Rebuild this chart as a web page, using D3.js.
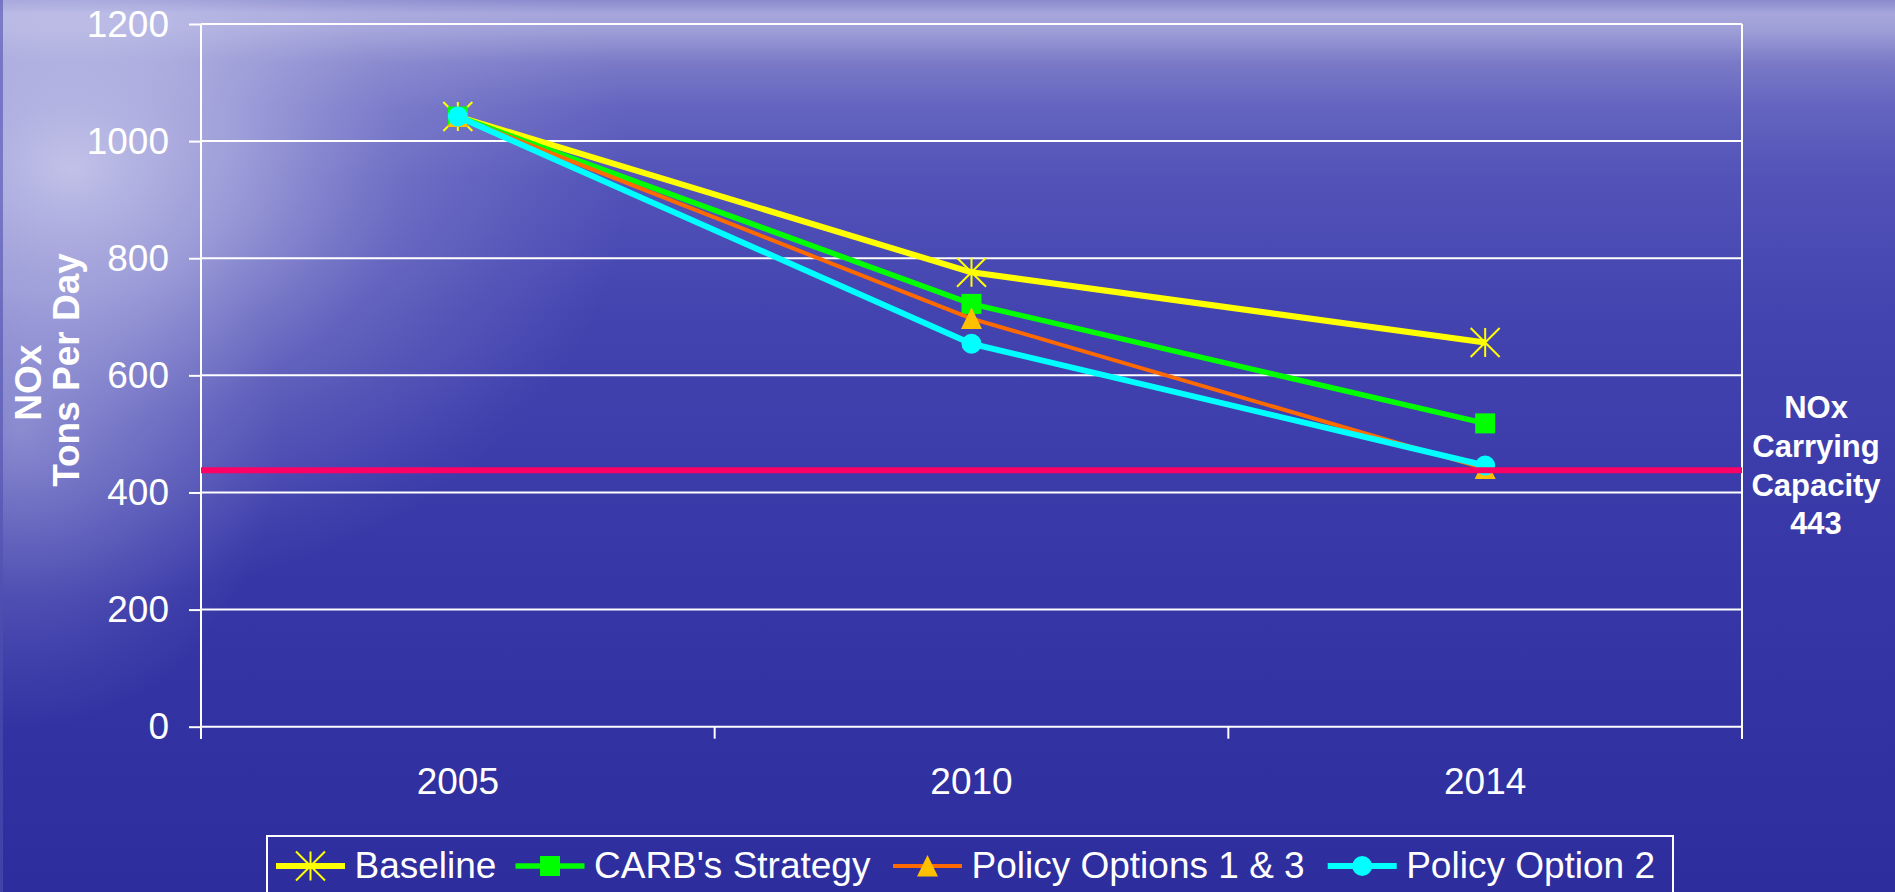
<!DOCTYPE html>
<html>
<head>
<meta charset="utf-8">
<script src="https://cdn.jsdelivr.net/npm/d3@7"></script>
<style>
  html, body { margin: 0; padding: 0; overflow: hidden; background: #2e2e9e; }
  svg { display: block; font-family: "Liberation Sans", Arial, sans-serif; }
</style>
</head>
<body>
<svg id="chart" width="1895" height="892"></svg>
<script>
// ---- data ----
const years = ["2005", "2010", "2014"];
const baseline = [1042, 776, 656];
const carbStrategy = [1042, 722, 518];
const policyOptions13 = [1042, 697, 441];
const policyOption2 = [1042, 654, 446];
const yTicks = [0, 200, 400, 600, 800, 1000, 1200];
const capacityLine = 438;          // where the red line is drawn
const capacityLabel = ["NOx", "Carrying", "Capacity", "443"];
const yTitle = ["NOx", "Tons Per Day"];
const seriesNames = ["Baseline", "CARB's Strategy", "Policy Options 1 & 3", "Policy Option 2"];

const series = [
  {name: seriesNames[0], values: baseline, line: "#FFFF00", marker: "star", mcolor: "#FFFF00", w: 6},
  {name: seriesNames[1], values: carbStrategy, line: "#00FF00", marker: "square", mcolor: "#00FF00", w: 5.5},
  {name: seriesNames[2], values: policyOptions13, line: "#FF6A00", marker: "triangle", mcolor: "#FFC000", w: 4},
  {name: seriesNames[3], values: policyOption2, line: "#00FFFF", marker: "circle", mcolor: "#00FFFF", w: 6}
];

const W = 1895, H = 892;
const plot = {left: 201, right: 1742, top: 24, bottom: 726.7};
const svg = d3.select("#chart");

// ---- background ----
const defs = svg.append("defs");
const bg = defs.append("linearGradient").attr("id", "bgv").attr("x1", 0).attr("y1", 0).attr("x2", 0).attr("y2", 1);
[[0, "#8a8ace"], [0.015, "#a6a6dc"], [0.032, "#a0a0d8"], [0.07, "#7a7ac8"], [0.12, "#6464c0"],
 [0.2, "#5252b8"], [0.35, "#4444b0"], [0.6, "#3838a8"], [1, "#2d2d9e"]].forEach(s =>
  bg.append("stop").attr("offset", s[0]).attr("stop-color", s[1]));
const haze = defs.append("radialGradient").attr("id", "haze")
  .attr("gradientUnits", "userSpaceOnUse").attr("cx", 0).attr("cy", 0).attr("r", 1)
  .attr("gradientTransform", "translate(70,170) scale(560,430)");
[[0, "#e6e6f8", 0.75], [0.3, "#d6d6f2", 0.55], [0.6, "#c0c0ea", 0.25], [1, "#b0b0e6", 0]].forEach(s =>
  haze.append("stop").attr("offset", s[0]).attr("stop-color", s[1]).attr("stop-opacity", s[2]));
const haze2 = defs.append("radialGradient").attr("id", "haze2")
  .attr("gradientUnits", "userSpaceOnUse").attr("cx", 0).attr("cy", 0).attr("r", 1)
  .attr("gradientTransform", "translate(20,430) scale(260,300)");
[[0, "#d0d0f0", 0.4], [1, "#b0b0e6", 0]].forEach(s =>
  haze2.append("stop").attr("offset", s[0]).attr("stop-color", s[1]).attr("stop-opacity", s[2]));

svg.append("rect").attr("width", W).attr("height", H).attr("fill", "url(#bgv)");
svg.append("rect").attr("width", W).attr("height", H).attr("fill", "url(#haze)");
svg.append("rect").attr("width", W).attr("height", H).attr("fill", "url(#haze2)");
svg.append("rect").attr("x", 0).attr("y", 0).attr("width", 3).attr("height", H).attr("fill", "#5050b0").attr("opacity", 0.6);

// ---- scales ----
const x = d3.scaleBand().domain(years).range([plot.left, plot.right]);
const y = d3.scaleLinear().domain([0, 1200]).range([plot.bottom, plot.top]);
const cx = d => x(d) + x.bandwidth() / 2;

// gridlines
svg.append("g").selectAll("line").data(yTicks).join("line")
  .attr("x1", plot.left).attr("x2", plot.right)
  .attr("y1", d => y(d)).attr("y2", d => y(d))
  .attr("stroke", "#ffffff").attr("stroke-width", 2);

// right border
svg.append("line").attr("x1", plot.right).attr("x2", plot.right)
  .attr("y1", plot.top).attr("y2", plot.bottom + 12)
  .attr("stroke", "#ffffff").attr("stroke-width", 2);

// y axis
const yAxis = svg.append("g").attr("transform", `translate(${plot.left},0)`)
  .call(d3.axisLeft(y).tickValues(yTicks).tickSize(12).tickPadding(20).tickFormat(d3.format("d")));
yAxis.select(".domain").attr("stroke", "#fff").attr("stroke-width", 2).attr("d", `M0,${plot.top}V${plot.bottom + 12}`);
yAxis.selectAll(".tick line").attr("stroke", "#fff").attr("stroke-width", 2);
yAxis.selectAll(".tick text").attr("fill", "#fff").attr("font-size", 37)
  .attr("font-family", "Liberation Sans, Arial, sans-serif").attr("dy", "0.33em");

// x axis
const xAxis = svg.append("g").attr("transform", `translate(0,${plot.bottom})`)
  .call(d3.axisBottom(x).tickSize(0).tickPadding(0));
xAxis.select(".domain").remove();
xAxis.selectAll(".tick text").attr("fill", "#fff").attr("font-size", 37)
  .attr("font-family", "Liberation Sans, Arial, sans-serif").attr("dy", null).attr("y", 67);
const boundaries = years.map(d => x(d)).concat([plot.right]);
svg.append("g").selectAll("line").data(boundaries).join("line")
  .attr("x1", d => d).attr("x2", d => d)
  .attr("y1", plot.bottom).attr("y2", plot.bottom + 12)
  .attr("stroke", "#fff").attr("stroke-width", 2);

// y title
svg.append("text").attr("transform", `translate(40.5,382.7) rotate(-90)`)
  .attr("text-anchor", "middle").attr("fill", "#fff").attr("font-weight", "bold").attr("font-size", 37)
  .text(yTitle[0]);
svg.append("text").attr("transform", `translate(79,370) rotate(-90)`)
  .attr("text-anchor", "middle").attr("fill", "#fff").attr("font-weight", "bold").attr("font-size", 37)
  .text(yTitle[1]);

// ---- markers ----
function drawMarker(g, type, color, px, py) {
  if (type === "star") {
    const r = 14.5;
    g.append("path").attr("d", `M${px},${py - r}V${py + r}M${px - r},${py - r}L${px + r},${py + r}M${px + r},${py - r}L${px - r},${py + r}`)
      .attr("stroke", color).attr("stroke-width", 2).attr("fill", "none");
  } else if (type === "square") {
    g.append("rect").attr("x", px - 10).attr("y", py - 10).attr("width", 20).attr("height", 20).attr("fill", color);
  } else if (type === "triangle") {
    g.append("path").attr("d", `M${px},${py - 11}L${px + 10.5},${py + 10.5}L${px - 10.5},${py + 10.5}Z`).attr("fill", color);
  } else if (type === "circle") {
    g.append("circle").attr("cx", px).attr("cy", py).attr("r", 10).attr("fill", color);
  }
}

// ---- series ----
const line = d3.line().x(d => cx(d.year)).y(d => y(d.value));
series.forEach(s => {
  const pts = years.map((yr, i) => ({year: yr, value: s.values[i]}));
  const g = svg.append("g");
  g.append("path").datum(pts).attr("d", line).attr("fill", "none")
    .attr("stroke", s.line).attr("stroke-width", s.w).attr("stroke-linejoin", "round");
  pts.forEach(p => drawMarker(g, s.marker, s.mcolor, cx(p.year), y(p.value)));
});

// capacity line
svg.append("line").attr("x1", plot.left).attr("x2", plot.right)
  .attr("y1", y(capacityLine)).attr("y2", y(capacityLine))
  .attr("stroke", "#FF0066").attr("stroke-width", 6);

// capacity label
const lbl = svg.append("text").attr("text-anchor", "middle").attr("fill", "#fff")
  .attr("font-weight", "bold").attr("font-size", 31);
const lblBaselines = [418, 457, 496, 534];
capacityLabel.forEach((t, i) => lbl.append("tspan").attr("x", 1816).attr("y", lblBaselines[i]).text(t));

// ---- legend ----
const leg = svg.append("g");
leg.append("rect").attr("x", 267).attr("y", 836).attr("width", 1406).attr("height", 80)
  .attr("fill", "none").attr("stroke", "#fff").attr("stroke-width", 2);
const legX = [276, 515.5, 893, 1327.7];
series.forEach((s, i) => {
  const lx = legX[i], ly = 866;
  leg.append("line").attr("x1", lx).attr("x2", lx + 69).attr("y1", ly).attr("y2", ly)
    .attr("stroke", s.line).attr("stroke-width", s.w);
  drawMarker(leg, s.marker, s.mcolor, lx + 34.5, ly);
  leg.append("text").attr("x", lx + 78.5).attr("y", 878).attr("fill", "#fff").attr("font-size", 37).text(s.name);
});
</script>
</body>
</html>
